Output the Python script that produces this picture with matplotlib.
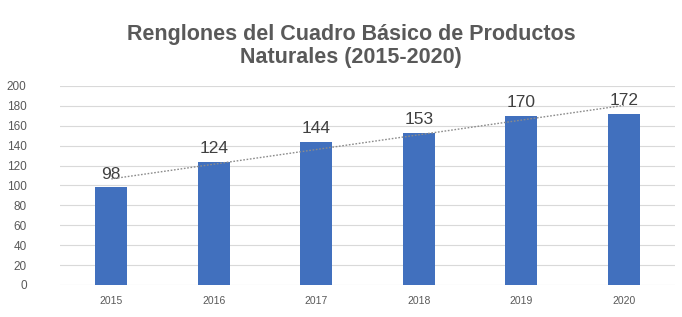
import matplotlib
matplotlib.use("Agg")
import matplotlib.pyplot as plt
import numpy as np

# Data
years = ["2015", "2016", "2017", "2018", "2019", "2020"]
renglones = [98, 124, 144, 153, 170, 172]
y_ticks = [0, 20, 40, 60, 80, 100, 120, 140, 160, 180, 200]

plt.rcParams['font.family'] = ['Liberation Sans', 'DejaVu Sans']

fig = plt.figure(figsize=(6.82, 3.17), dpi=100)
ax = fig.add_axes([0.088, 0.101, 0.902, 0.628])

x = np.arange(len(years))
ax.bar(x, renglones, width=0.31, color="#4170BE", zorder=3)

# data labels
for xi, v in zip(x, renglones):
    ax.annotate(str(v), (xi, v), xytext=(0, 4), textcoords="offset points",
                ha="center", va="bottom", fontsize=12.5, color="#404040")

# linear trendline
slope, intercept = np.polyfit(x, renglones, 1)
ax.plot(x, slope * x + intercept, linestyle=(0, (1.2, 1.2)), color="#8c8c8c",
        linewidth=1, zorder=4)

ax.set_xlim(-0.5, len(years) - 0.5)
ax.set_ylim(0, 200)
ax.set_yticks(y_ticks)
ax.set_xticks(x)
ax.set_xticklabels(years)
ax.tick_params(axis="y", length=0, labelsize=8.5, colors="#595959", pad=24)
ax.tick_params(axis="x", length=0, labelsize=7.5, colors="#595959", pad=8)
ax.grid(axis="y", color="#d9d9d9", linewidth=0.8, zorder=0)
for s in ax.spines.values():
    s.set_visible(False)

fig.text(0.515, 0.855, "Renglones del Cuadro Básico de Productos\nNaturales (2015-2020)",
         ha="center", va="center", fontsize=15.5, fontweight="bold", color="#595959",
         linespacing=1.08)

fig.savefig("out.png", dpi=100)
